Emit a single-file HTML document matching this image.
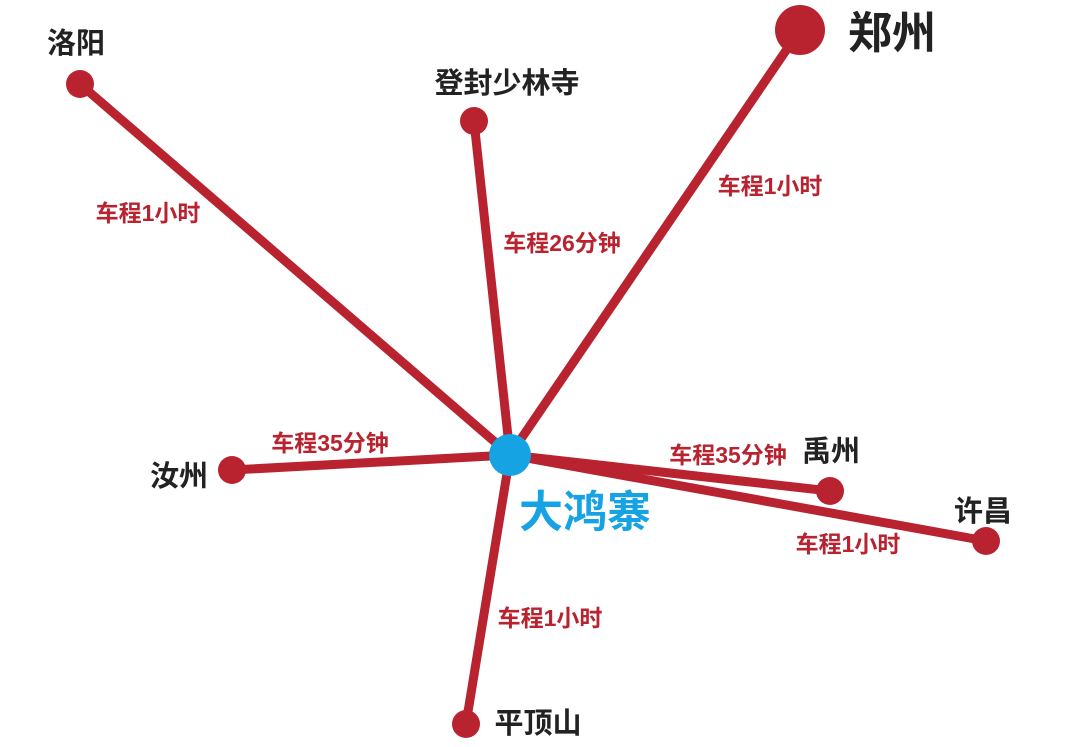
<!DOCTYPE html>
<html><head><meta charset="utf-8"><style>
html,body{margin:0;padding:0;background:#fff;}
svg{display:block}
text{font-family:"Liberation Sans","Noto Sans CJK SC",sans-serif;font-weight:bold;}
</style></head><body>
<svg width="1080" height="747" viewBox="0 0 1080 747">
<g stroke="#b8232f" stroke-width="9" stroke-linecap="round">
<line x1="510" y1="455" x2="80" y2="84"/>
<line x1="510" y1="455" x2="474" y2="121"/>
<line x1="510" y1="455" x2="800" y2="30"/>
<line x1="510" y1="455" x2="232" y2="470"/>
<line x1="510" y1="455" x2="830" y2="491"/>
<line x1="510" y1="455" x2="986" y2="541"/>
<line x1="510" y1="455" x2="466" y2="724"/>
</g>
<g fill="#b8232f">
<circle cx="80" cy="84" r="14"/>
<circle cx="474" cy="121" r="14"/>
<circle cx="800" cy="30" r="25"/>
<circle cx="232" cy="470" r="14"/>
<circle cx="830" cy="491" r="14"/>
<circle cx="986" cy="541" r="14"/>
<circle cx="466" cy="724" r="14"/>
</g>
<circle cx="510" cy="455" r="21" fill="#16a3e4"/>
<g fill="#222" text-anchor="middle">
<text x="76" y="53" font-size="29">洛阳</text>
<text x="507" y="93" font-size="29">登封少林寺</text>
<text x="892" y="48" font-size="44">郑州</text>
<text x="179" y="486" font-size="29">汝州</text>
<text x="831" y="461" font-size="29">禹州</text>
<text x="983" y="521" font-size="29">许昌</text>
<text x="538" y="733" font-size="29">平顶山</text>
</g>
<text x="585" y="527" font-size="44" fill="#16a3e4" text-anchor="middle">大鸿寨</text>
<g fill="#b8232f" font-size="23" text-anchor="middle">
<text x="148" y="221">车程1小时</text>
<text x="562" y="251">车程26分钟</text>
<text x="770" y="194">车程1小时</text>
<text x="330" y="451">车程35分钟</text>
<text x="728" y="463">车程35分钟</text>
<text x="848" y="552">车程1小时</text>
<text x="550" y="626">车程1小时</text>
</g>
</svg>
</body></html>
